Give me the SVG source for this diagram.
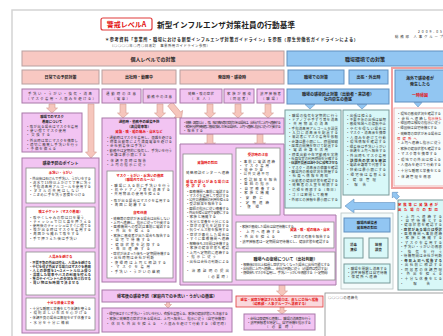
<svg xmlns="http://www.w3.org/2000/svg" width="443" height="336" viewBox="0 0 443 336">
<style>
text{font-family:"Noto Sans CJK JP","Noto Sans",sans-serif}
.ph{fill:#f8c8c2;stroke:#b8a0a0;stroke-width:1}
.lv{fill:#f2c4f2;stroke:#a878a8;stroke-width:1}
.bh{fill:#92c6f2;stroke:#6090c0;stroke-width:1}
.cy{fill:#d8f8f8;stroke:#789a9a;stroke-width:1}
.wb{fill:#fff;stroke:#8a8a8a;stroke-width:0.8}
.pa{fill:#f6c6bc;stroke:#d49a90;stroke-width:0.6}
.ba{fill:#92c6f2;stroke:#6090c0;stroke-width:0.6}
.h{font-size:5px;font-weight:bold;fill:#222;text-anchor:middle}
.s{font-size:4px;font-weight:bold;fill:#222;text-anchor:middle}
.s2{font-size:3.4px;font-weight:bold;fill:#222;text-anchor:middle}
.t{font-size:3.4px;fill:#333}
.r{fill:#e41010}
</style>
<rect x="0" y="0" width="443" height="336" fill="#fff"/>
<rect x="12" y="10" width="440" height="335" fill="#fff" stroke="#d4d4d4" stroke-width="1.5"/>

<g id="title">
<rect x="101" y="18" width="51" height="12" rx="2" fill="#fff" stroke="#e03a3a" stroke-width="1.2"/>
<text x="126.5" y="27" font-size="7" font-weight="bold" fill="#e41010" text-anchor="middle">警戒レベルA</text>
<text x="157" y="27.5" font-size="7.6" font-weight="bold" fill="#222" textLength="138">新型インフルエンザ対策社員の行動基準</text>
<text x="105" y="41" font-size="4.2" font-weight="bold" fill="#222" textLength="253">＊参考資料「事業所・職場における新型インフルエンザ対策ガイドライン」を参照（厚生労働省ガイドラインによる）</text>
<text x="110" y="47" class="t" textLength="100">（○○○○年○月○日改訂　事業所用ガイドライン参照）</text>
<text x="418" y="33" class="t" textLength="24">2009.05</text>
<text x="395" y="38" class="t" textLength="48">総務部 人事グループ</text>
</g>

<g id="connectors">
<polygon class="pa" points="49,104 55,104 55,108 57.5,108 52,113 46.5,108 49,108"/>
<polygon class="pa" points="120,104 126,104 126,113 128.5,113 123,118 117.5,113 120,113"/>
<polygon class="pa" points="157,104 163,104 163,113 165.5,113 160,118 154.5,113 157,113"/>
<polygon class="pa" transform="translate(170,104) rotate(-40)" points="-3,0 3,0 3,13 5.5,13 0,18 -5.5,13 -3,13"/>
<polygon class="pa" points="207,104 213,104 213,113 215.5,113 210,118 204.5,113 207,113"/>
<polygon class="pa" points="235,104 241,104 241,113 243.5,113 238,118 232.5,113 235,113"/>
<polygon class="pa" points="265,104 271,104 271,113 273.5,113 268,118 262.5,113 265,113"/>
<polygon class="pa" points="88,104 94,104 94,152 96.5,152 91,158 85.5,152 88,152"/>
<polygon class="pa" points="207,134 213,134 213,143 215.5,143 210,148 204.5,143 207,143"/>
<polygon class="pa" points="257,134 263,134 263,143 265.5,143 260,148 254.5,143 257,143"/>
<polygon class="pa" points="231,173.5 233.5,173.5 233.5,171.5 237,175 233.5,178.5 233.5,176.5 231,176.5"/>
<polygon class="pa" points="256.5,215 259.5,215 259.5,218.5 261.5,218.5 258,222 254.5,218.5 256.5,218.5"/>
<polygon class="pa" points="280.5,248 283.5,248 283.5,249.5 285.5,249.5 282,252.5 278.5,249.5 280.5,249.5"/>
<polygon class="pa" points="166.5,302 169.5,302 169.5,304.5 171.5,304.5 168,308 164.5,304.5 166.5,304.5"/>
<polygon class="pa" points="279,285 285,285 285,291 287.5,291 282,296 276.5,291 279,291"/>
<polygon class="pa" points="280,307 284,307 284,310.5 286.5,310.5 282,314 277.5,310.5 280,310.5"/>
<polygon class="ba" points="305,104.5 315,104.5 310,109"/>
<polygon class="ba" points="357,104.5 367,104.5 362,109"/>
<polygon class="ba" points="414,102.5 422,102.5 418,107"/>
<polygon class="ba" points="395,202.5 354,202.5 354,199 345,206 354,213 354,209.5 395,209.5"/>
<polygon class="ba" transform="translate(398,198) rotate(135)" points="-2,0 2,0 2,4 4,4 0,8 -4,4 -2,4"/>
<polygon class="ba" points="353,232 357,232 357,234.5 359,234.5 355,238 351,234.5 353,234.5"/>
<polygon class="ba" points="378,232 382,232 382,234.5 384,234.5 380,238 376,234.5 378,234.5"/>
<polygon class="ba" points="353,258 357,258 357,260.5 359,260.5 355,264 351,260.5 353,260.5"/>
<polygon class="ba" points="378,258 382,258 382,260.5 384,260.5 380,264 376,260.5 378,260.5"/>
</g>

<g id="hdr-personal">
<rect class="ph" x="22" y="51" width="262" height="15"/>
<text class="h" x="153" y="60.5">個人レベルでの対策</text>
</g>
<g id="hdr-workplace">
<rect class="bh" x="287" y="51" width="165" height="15"/>
<text class="h" x="365" y="60.5">職場環境での対策</text>
</g>

<g id="sub-daily"><rect class="ph" x="22" y="70" width="77" height="14"/><text class="s" x="60.5" y="78.5">日常での予防対策</text></g>
<g id="sub-work"><rect class="ph" x="102" y="70" width="74" height="14"/><text class="s" x="139" y="78.5">出社時・勤務中</text></g>
<g id="sub-sick"><rect class="ph" x="180" y="70" width="104" height="14"/><text class="s" x="232" y="78.5">発症時・感染時</text></g>
<g id="sub-office"><rect class="bh" x="288" y="70" width="56" height="14"/><text class="s" x="316" y="78.5">職場での対策</text></g>
<g id="sub-trip"><rect class="bh" x="349" y="70" width="39" height="14"/><text class="s" x="368.5" y="78.5">出張・外出時</text></g>

<g id="overseas">
<rect x="392" y="68" width="56" height="120" fill="none" stroke="#f0a0a0" stroke-width="2"/>
<rect class="bh" x="395" y="70" width="55" height="32"/>
<text class="s" x="420" y="80">海外で感染者が</text>
<text class="s" x="420" y="85.5">発生したら</text>
<text class="s r" x="420" y="97">一時帰国</text>
<rect x="394" y="108" width="53" height="78" fill="#f6fdfd" stroke="#f0a0a0" stroke-width="0.8"/>
<text class="t" x="397" y="115" textLength="44">・現地の感染状況を確認する</text>
<text class="t" x="397" y="119.5" textLength="30">・会社へ連絡し</text>
<text class="t r" x="428" y="119.5" textLength="14">指示待ち</text>
<text class="t" x="397" y="124" textLength="44">・帰国時は検疫の指示に従う</text>
<text class="t" x="397" y="128.5" textLength="40">・帰国後は自宅待機とする</text>
<text class="t" x="397" y="135" textLength="44">・発熱等の症状がある場合は</text>
<text class="t r" x="397" y="139.5" textLength="20">保健所へ</text>
<text class="t" x="397" y="144" textLength="44">・上司へ連絡し指示に従う</text>
<text class="t" x="397" y="150" textLength="44">・家族の健康状態も確認する</text>
<text class="t" x="397" y="154.5" textLength="40">・マスク等を携帯する</text>
<text class="t" x="397" y="161" textLength="44">・現地での外出は控える</text>
<text class="t" x="397" y="165.5" textLength="44">・人混みを避けて行動する</text>
<text class="t" x="397" y="172" textLength="44">・十分な睡眠と栄養をとる</text>
<text class="t" x="397" y="178" textLength="34">・体調管理を徹底</text>
</g>

<g id="r3-a"><rect class="lv" x="22" y="89" width="77" height="14"/><text class="t" x="28" y="95" textLength="64">手洗い・うがい・換気・消毒</text><text class="t" x="26" y="100" textLength="70">（マスク着用・人混みを避ける）</text></g>
<g id="r3-b"><rect class="lv" x="102" y="89" width="39" height="14"/><text class="t" x="106" y="95" textLength="30">通勤時の注意</text><text class="t" x="112" y="100" textLength="18">（電車）</text></g>
<g id="r3-c"><rect class="lv" x="143" y="89" width="33" height="14"/><text class="t" x="147" y="97.5" textLength="25">勤務中の注意</text></g>
<g id="r3-d"><rect class="lv" x="180" y="89" width="42" height="14"/><text class="t" x="188" y="95" textLength="26">発熱・咳の症状</text><text class="t" x="190" y="100" textLength="22">（本人）</text></g>
<g id="r3-e"><rect class="lv" x="224" y="89" width="30" height="14"/><text class="t" x="227" y="95" textLength="24">家族が感染</text><text class="t" x="228" y="100" textLength="22">（同居者）</text></g>
<g id="r3-f"><rect class="lv" x="257" y="89" width="27" height="14"/><text class="t" x="260" y="95" textLength="21">濃厚接触者</text><text class="t" x="261" y="100" textLength="19">（職場）</text></g>
<g id="r3-g"><rect class="bh" x="287" y="89" width="102" height="15"/><text class="s" x="338" y="95.5">職場の感染防止対策（出勤者・来訪者）</text><text class="s" x="338" y="101">社内衛生の徹底</text></g>

<g id="mask">
<rect class="lv" x="22" y="113" width="60" height="39"/>
<text class="s2" x="52" y="118">職場でのマスク</text>
<text class="s2" x="52" y="122.5">着用について</text>
<text class="t" x="26" y="128" textLength="52">・咳が出る場合はマスクを着用</text>
<text class="t" x="26" y="132" textLength="40">・使い捨てマスク使用</text>
<text class="t" x="26" y="136" textLength="24">・交換する</text>
<text class="t" x="26" y="142" textLength="52">・外出時は常にマスクを携帯し</text>
<text class="t" x="26" y="146" textLength="52">・適切に廃棄し手洗いを行う</text>
<text class="t" x="26" y="150" textLength="30">・予備を備える</text>
</g>

<g id="prevention">
<rect class="lv" x="22" y="158" width="77" height="175"/>
<text class="s" x="60.5" y="164.5">感染予防のポイント</text>
<rect class="wb" x="26" y="168" width="69" height="35"/>
<text class="t r" x="60.5" y="173.5" text-anchor="middle" font-weight="bold">手洗い・うがい</text>
<text class="t" x="29" y="180" textLength="62">・外出後は石けんで手洗い、うがいをする</text>
<text class="t" x="29" y="184" textLength="62">・流水で15秒以上かけて丁寧に洗う</text>
<text class="t" x="29" y="188" textLength="62">・手指消毒用アルコールを使用する</text>
<text class="t" x="29" y="192" textLength="50">・タオルの共用はしない</text>
<text class="t" x="29" y="196" textLength="56">・こまめに手を洗う習慣をつける</text>
<rect class="wb" x="26" y="207" width="69" height="41"/>
<text class="t r" x="60.5" y="212.5" text-anchor="middle" font-weight="bold">咳エチケット（マスク着用）</text>
<text class="t" x="29" y="219" textLength="55">・咳やくしゃみの際は口を覆う</text>
<text class="t" x="29" y="223" textLength="62">・ティッシュで口と鼻を押さえる</text>
<text class="t" x="29" y="227" textLength="62">・使用後のティッシュはすぐに捨てる</text>
<text class="t" x="29" y="231" textLength="62">・咳が出る時はマスクを着用する</text>
<text class="t" x="29" y="235" textLength="50">・周囲から離れて咳をする</text>
<text class="t" x="29" y="240" textLength="48">・手で押さえた後は手洗い</text>
<rect class="wb" x="26" y="252" width="69" height="43"/>
<text class="t r" x="60.5" y="257.5" text-anchor="middle" font-weight="bold">人混みを避ける</text>
<text class="t" x="29" y="264" textLength="62" font-weight="bold">・不要不急の外出は控え、人混みを避ける</text>
<text class="t" x="29" y="268" textLength="62" font-weight="bold">・やむを得ず外出する場合はマスクを着用</text>
<text class="t" x="29" y="272" textLength="62" font-weight="bold">・人との距離を1〜2メートル以上保つ</text>
<text class="t" x="29" y="276" textLength="62" font-weight="bold">・混雑した電車やバスの利用を控える</text>
<text class="t" x="29" y="280" textLength="62" font-weight="bold">・集会やイベントへの参加を見合わせる</text>
<text class="t" x="29" y="284" textLength="50" font-weight="bold">・買い物は短時間で済ませる</text>
<rect class="wb" x="26" y="298" width="69" height="32"/>
<text class="t r" x="60.5" y="304" text-anchor="middle" font-weight="bold">十分な休養と栄養</text>
<text class="t" x="29" y="309.5" textLength="62">・十分な睡眠と栄養をとり体調を整える</text>
<text class="t" x="29" y="314" textLength="58">・規則正しい生活を心がける</text>
<text class="t" x="29" y="319" textLength="62">・体調不良の場合は無理をせず休養する</text>
<text class="t" x="29" y="323.5" textLength="40">・水分を十分に補給</text>
</g>

<g id="commute">
<rect class="lv" x="102" y="118" width="74" height="164"/>
<text class="s2" x="139" y="123">通勤時・勤務中の感染予防</text>
<text class="s2" x="139" y="127.5">（満員電車等）</text>
<text class="t r" x="139" y="132.5" text-anchor="middle" font-weight="bold">発熱・咳・喉の痛み・鼻水など</text>
<text class="t" x="106" y="139" textLength="66">・通勤時はマスクを着用し、混雑を避ける</text>
<text class="t" x="106" y="143" textLength="66">・時差出勤等により満員電車を避ける</text>
<text class="t" x="106" y="147" textLength="40">・会社到着後は手洗い</text>
<text class="t" x="106" y="152" textLength="66">・勤務中は定期的に換気し、手洗いを行う</text>
<text class="t" x="106" y="156" textLength="40">・会議は最小限にする</text>
<text class="t" x="106" y="162" textLength="40">・体調不良時は報告</text>
<text class="t" x="106" y="166" textLength="40">・上司の指示に従う</text>
<rect class="wb" x="107" y="171" width="66" height="107"/>
<text class="t r" x="140" y="176.5" text-anchor="middle" font-weight="bold">マスク・うがい・手洗いの徹底</text>
<text class="t r" x="140" y="180.5" text-anchor="middle" font-weight="bold">（職場内でのルール）</text>
<text class="t" x="110" y="187" textLength="60">・職場に入る前に手洗いを行う</text>
<text class="t" x="110" y="191" textLength="60">・机やドアノブ等を消毒する</text>
<text class="t" x="110" y="195" textLength="50">・共用物品の使用を控える</text>
<text class="t" x="110" y="202" textLength="60">・咳が出る場合はマスクを着用する</text>
<text class="t" x="110" y="206" textLength="36">・周囲に配慮する</text>
<text class="t r" x="140" y="214" text-anchor="middle" font-weight="bold">自宅待機</text>
<text class="t" x="110" y="220" textLength="60">・発熱等の症状がある場合は出社しない</text>
<text class="t" x="110" y="224" textLength="60">・上司へ連絡し、指示に従って行動する</text>
<text class="t" x="110" y="228" textLength="60">・医療機関への受診は事前に電話する</text>
<text class="t" x="110" y="232" textLength="40">・外出を控える</text>
<text class="t" x="110" y="237" textLength="60">・家族に感染者が出た場合も報告する</text>
<text class="t" x="110" y="241" textLength="40">・自宅で待機する</text>
<text class="t" x="110" y="246" textLength="50">・健康状態を記録する</text>
<text class="t" x="110" y="250" textLength="40">・毎日連絡する</text>
<text class="t" x="110" y="255" textLength="60">・症状が治まった後も一定期間待機する</text>
<text class="t" x="110" y="259" textLength="44">・出社時期は会社が判断</text>
<text class="t" x="110" y="264" textLength="56">・復帰時は上司と相談する</text>
<text class="t" x="110" y="268" textLength="40">・マスクを着用</text>
<text class="t" x="110" y="273" textLength="50">・手洗い・うがいの継続</text>
</g>

<g id="symptom-top">
<rect class="lv" x="180" y="118" width="104" height="16"/>
<text class="t" x="183" y="123.5" textLength="98">・発熱（38度以上）、咳、喉の痛み等の症状がある場合は、出社せずに上司へ連絡する</text>
<text class="t" x="183" y="127.5" textLength="98">・家族や濃厚接触者に感染の疑いがある場合も、上司へ連絡し指示に従って行動する</text>
<text class="t" x="183" y="131.5" textLength="20">・報告する</text>
</g>

<g id="symptom">
<path class="lv" d="M180,144 H284 V215 H336 V285 H180 Z"/>
<rect class="wb" x="183" y="154" width="49" height="128"/>
<text class="t r" x="207.5" y="164" text-anchor="middle" font-weight="bold">発熱時の対応</text>
<text class="t" x="186" y="174" textLength="43">発熱相談センターへ連絡</text>
<text class="t r" x="186" y="183" textLength="43" font-weight="bold">感染の疑いがある場合は</text>
<text class="t r" x="186" y="187" textLength="20" font-weight="bold">受診する</text>
<text class="t" x="186" y="193" textLength="43">・医療機関へ事前に電話する</text>
<text class="t" x="186" y="197" textLength="43">・マスクを着用して受診する</text>
<text class="t" x="186" y="201" textLength="43">・公共交通機関の利用を控える</text>
<text class="t" x="186" y="205" textLength="36">・受診結果を報告する</text>
<text class="t" x="186" y="210" textLength="43">・医師の指示に従い療養する</text>
<text class="t" x="186" y="214" textLength="43">・外出を控え自宅で安静にする</text>
<text class="t" x="186" y="218" textLength="30">・家族と隔離する</text>
<text class="t" x="186" y="223" textLength="43">・水分と栄養を十分にとる</text>
<text class="t" x="186" y="227" textLength="43">・症状の変化を記録する</text>
<text class="t" x="186" y="231" textLength="43">・抗ウイルス薬を服用する</text>
<text class="t" x="186" y="236" textLength="43">・症状が悪化した場合は</text>
<text class="t" x="186" y="240" textLength="43">・すぐに医療機関へ連絡</text>
<text class="t" x="186" y="245" textLength="43">・解熱後も2日間は待機する</text>
<text class="t" x="186" y="249" textLength="43">・家族の健康状態も確認</text>
<text class="t" x="186" y="254" textLength="43">・上司へ定期的に連絡する</text>
<text class="t" x="186" y="258" textLength="30">・指示に従う</text>
<text class="t" x="186" y="263" textLength="43">・出社は会社の判断による</text>
<text class="t" x="186" y="272" textLength="43">・治癒証明の提出</text>
<text class="t" x="206" y="278" textLength="24">（必要時）</text>
<rect class="wb" x="236" y="148" width="44" height="67"/>
<text class="t r" x="258" y="155.5" text-anchor="middle" font-weight="bold">受診時の注意</text>
<text class="t" x="239" y="163" textLength="36">・事前に電話連絡</text>
<text class="t" x="239" y="167" textLength="30">・マスク着用</text>
<text class="t" x="239" y="171" textLength="24">・徒歩か車</text>
<text class="t" x="239" y="175" textLength="30">・公共交通不可</text>
<text class="t" x="239" y="181" textLength="38">・受診結果を報告</text>
<text class="t" x="239" y="185" textLength="30">・医師の指示</text>
<text class="t" x="239" y="190" textLength="36">・自宅療養する</text>
<text class="t" x="239" y="194" textLength="30">・家族と隔離</text>
<text class="t" x="239" y="199" textLength="24">・安静に</text>
<text class="t" x="239" y="204" textLength="30">・定期連絡</text>
<text class="t" x="239" y="208" textLength="20">・復帰</text>
<rect class="wb" x="236" y="222" width="98" height="26"/>
<text class="t" x="239" y="228" textLength="55">・家族が感染した場合は自宅待機とする</text>
<text class="t r" x="290" y="231" textLength="40" font-weight="bold">発熱・咳・喉の痛み・鼻水</text>
<text class="t r" x="239" y="233" textLength="6">・</text>
<text class="t" x="246" y="233" textLength="34">上司へ連絡する</text>
<text class="t" x="239" y="238" textLength="36">・外出を控える</text>
<text class="t" x="290" y="238" textLength="40">・症状の有無を報告する</text>
<text class="t" x="239" y="243" textLength="90">・濃厚接触者は一定期間自宅待機とし、健康状態を確認する</text>
<rect class="wb" x="236" y="252" width="99" height="28"/>
<text class="s" x="285.5" y="261">職場への復帰について（出社判断）</text>
<text class="t" x="240" y="266" textLength="90">・解熱後2日以上経過し症状がなくなった場合に出社可能とする</text>
<text class="t" x="240" y="270" textLength="90">・出社前に上司へ連絡し、会社の判断に従う（必要時は受診する）</text>
<text class="t" x="240" y="274" textLength="90">・復帰後もマスクを着用し、手洗い・うがいを徹底する（一定期間）</text>
</g>

<g id="bottom-mid">
<rect class="lv" x="102" y="290" width="130" height="12"/>
<text class="s" x="167" y="298">帰宅後の感染予防（家庭内での手洗い・うがいの徹底）</text>
<rect class="lv" x="102" y="308" width="130" height="24"/>
<text class="t" x="106" y="315" textLength="122">・帰宅後はすぐに手洗い・うがいを行い、衣服を着替える。家族の健康状態にも注意する</text>
<text class="t" x="106" y="320" textLength="122">・家族に発熱等の症状がある場合は、上司へ報告し、指示に従う（自宅待機等）</text>
<text class="t" x="106" y="325" textLength="50">・休日も外出を控える</text>
<text class="t" x="160" y="325" textLength="68">・人混みを避けて行動する（帰宅時）</text>
</g>

<g id="report">
<rect x="236" y="296" width="87" height="11" fill="#fad8dc" stroke="#e03a3a" stroke-width="0.8"/>
<text class="t r" x="279.5" y="300.5" text-anchor="middle" font-weight="bold">感染・発症が確認された場合は、直ちに会社へ報告</text>
<text class="t r" x="279.5" y="304.8" text-anchor="middle" font-weight="bold">（総務部・人事グループへ連絡する）</text>
<rect class="lv" x="244" y="314" width="71" height="16"/>
<text class="t" x="247" y="320" textLength="64">・会社は保健所と連携し、職場の消毒等を行う</text>
<text class="t" x="247" y="324" textLength="64">・濃厚接触者を特定し、自宅待機を指示する</text>
<text class="t" x="265" y="328" textLength="30">（必要時）</text>
</g>

<g id="contact">
<rect x="325" y="293" width="125" height="50" fill="#fff" stroke="#8a8a8a" stroke-width="0.8"/>
<text class="t" x="328" y="299" textLength="30">○○○○の連絡先</text>
</g>

<g id="office-measures">
<rect class="cy" x="285" y="110" width="56" height="98"/>
<text class="t" x="288" y="117" textLength="50">・職場の換気を定期的に行う</text>
<text class="t" x="288" y="121" textLength="50">・ドアノブや手すり等を消毒</text>
<text class="t" x="288" y="125" textLength="40">・共用物品の消毒</text>
<text class="t" x="288" y="130" textLength="50">・手指消毒用アルコールを設置</text>
<text class="t" x="288" y="134" textLength="50">・入口に消毒液を配置する</text>
<text class="t" x="288" y="138" textLength="50">・来訪者にマスク着用を依頼</text>
<text class="t" x="288" y="143" textLength="50">・会議は最小限にし、時間短縮</text>
<text class="t" x="288" y="147" textLength="50">・座席の間隔を空けて配置する</text>
<text class="t" x="288" y="151" textLength="40">・電話会議を活用</text>
<text class="t" x="288" y="156" textLength="50">・時差出勤や在宅勤務を実施</text>
<text class="t" x="288" y="160" textLength="50">・社員食堂の利用時間を分散する</text>
<text class="t" x="288" y="164" textLength="50" font-weight="bold">・体調不良者は速やかに帰宅させる</text>
<text class="t" x="288" y="169" textLength="50">・マスク・消毒液の備蓄を確認</text>
<text class="t" x="288" y="173" textLength="50">・職場内の感染状況を把握する</text>
<text class="t" x="288" y="177" textLength="40">・社員へ情報を周知</text>
<text class="t" x="288" y="182" textLength="50">・出勤者の健康状態を確認する</text>
<text class="t" x="288" y="186" textLength="50">・発熱者の入室を制限する</text>
<text class="t" x="288" y="191" textLength="50">・清掃を徹底する（毎日）</text>
<text class="t" x="288" y="196" textLength="40">・ゴミは密閉して廃棄</text>
<text class="t" x="288" y="201" textLength="50">・外部との接触を最小限にする</text>
</g>

<g id="trip-measures">
<rect class="cy" x="343" y="110" width="46" height="85"/>
<text class="t" x="346" y="117" textLength="26">・出張は控える</text>
<text class="t" x="346" y="121" textLength="40">・不要不急の出張は延期</text>
<text class="t" x="346" y="125" textLength="40">・感染地域への渡航中止</text>
<text class="t" x="346" y="130" textLength="40">・やむを得ない場合は</text>
<text class="t" x="346" y="134" textLength="40">・マスク・消毒液を携帯</text>
<text class="t" x="346" y="139" textLength="40">・人混みを避けて行動</text>
<text class="t" x="346" y="143" textLength="40">・現地情報を確認する</text>
<text class="t" x="346" y="148" textLength="40">・帰着後は手洗いうがい</text>
<text class="t" x="346" y="152" textLength="40">・体調を上司へ報告する</text>
<text class="t" x="346" y="157" textLength="40">・外出時もマスク着用</text>
<text class="t" x="346" y="162" textLength="40" font-weight="bold">・訪問先の状況を確認</text>
<text class="t" x="346" y="166" textLength="40">・電話会議等で代替する</text>
<text class="t" x="346" y="171" textLength="40">・移動は最小限にする</text>
<text class="t" x="346" y="176" textLength="40">・帰宅後は着替える</text>
<text class="t" x="346" y="181" textLength="30">・健康管理</text>
<text class="t" x="346" y="186" textLength="20">・報告</text>
</g>

<g id="outbreak">
<rect x="341" y="213" width="52" height="76" fill="#f4fbfb" stroke="#b8c4c4" stroke-width="0.8"/>
<rect class="bh" x="344" y="218" width="46" height="14"/>
<text class="s2" x="367" y="224">職場内感染者</text>
<text class="s2" x="367" y="229">発生時の対応</text>
<rect class="cy" x="344" y="238" width="19" height="20"/>
<text class="t" x="353.5" y="246" text-anchor="middle" font-weight="bold">消毒</text>
<text class="t" x="353.5" y="251" text-anchor="middle" font-weight="bold">清掃</text>
<rect class="cy" x="369" y="238" width="19" height="20"/>
<text class="t" x="378.5" y="246" text-anchor="middle" font-weight="bold">接触</text>
<text class="t" x="378.5" y="251" text-anchor="middle" font-weight="bold">調査</text>
<rect class="cy" x="344" y="264" width="46" height="19"/>
<text class="t" x="347" y="270" textLength="40">・職場を閉鎖し消毒する</text>
<text class="t" x="347" y="274" textLength="40">・濃厚接触者は自宅待機</text>
<text class="t" x="347" y="278" textLength="30">・保健所へ連絡</text>
</g>

<g id="family">
<rect class="cy" x="398" y="200" width="52" height="90"/>
<text class="t r" x="398" y="206" textLength="40" font-weight="bold">家族等に発熱者が</text>
<text class="t r" x="398" y="210.5" textLength="40" font-weight="bold">出た場合の対応</text>
<text class="t" x="400" y="218" textLength="42">・上司へ連絡する</text>
<text class="t" x="400" y="222" textLength="42">・自宅待機とする</text>
<text class="t" x="400" y="226" textLength="42">・健康状態を確認する</text>
<text class="t" x="400" y="231" textLength="42" font-weight="bold">・症状がある場合は受診</text>
<text class="t" x="400" y="235" textLength="42">・医療機関へ事前連絡</text>
<text class="t" x="400" y="239" textLength="42">・家族と隔離する</text>
<text class="t" x="400" y="244" textLength="42">・マスクを着用する</text>
<text class="t" x="400" y="248" textLength="42">・手洗い・うがいの徹底</text>
<text class="t" x="400" y="253" textLength="42">・換気を行う</text>
<text class="t" x="400" y="257" textLength="42">・待機期間は会社が判断</text>
<text class="t" x="400" y="262" textLength="42" font-weight="bold">・毎日上司へ報告する</text>
<text class="t" x="400" y="266" textLength="42">・出社前に相談する</text>
<text class="t" x="400" y="271" textLength="42">・同居者の体調管理</text>
<text class="t" x="400" y="275" textLength="42">・外出を控える</text>
<text class="t" x="400" y="280" textLength="42">・十分な休養をとる</text>
<text class="t" x="400" y="285" textLength="30">・報告</text>
</g>
</svg>
